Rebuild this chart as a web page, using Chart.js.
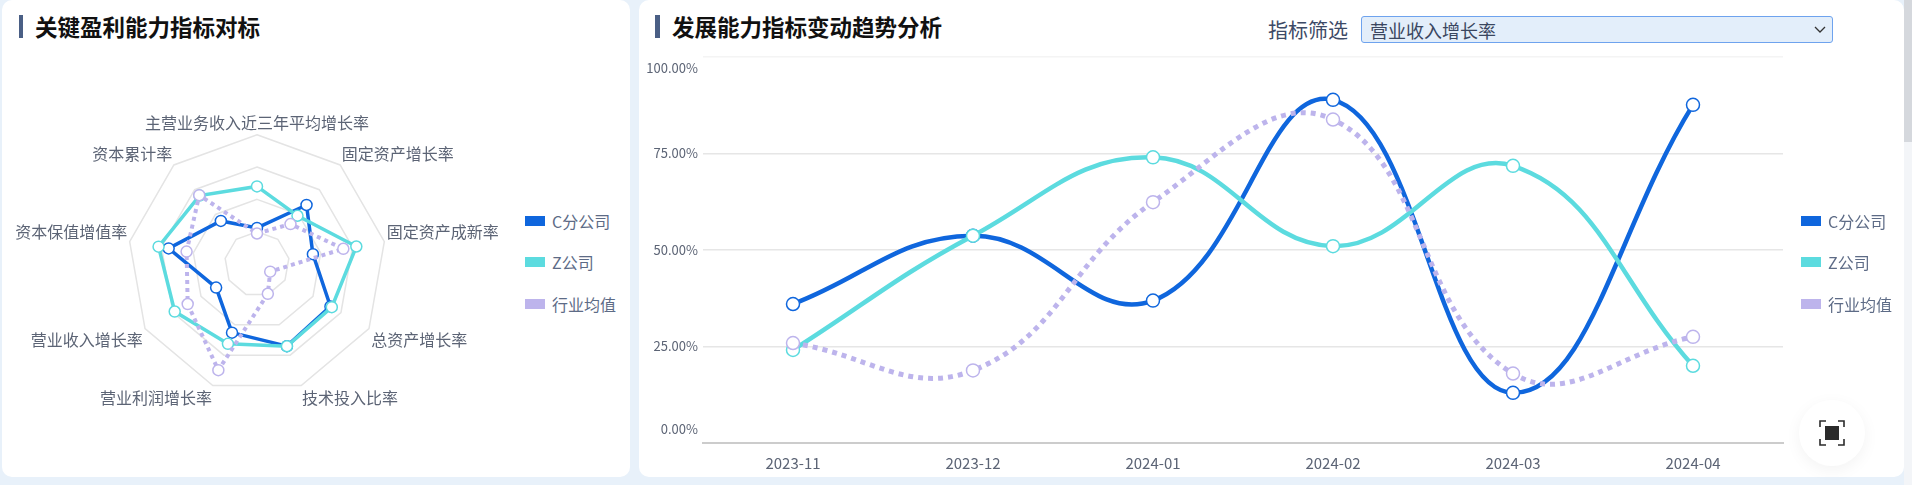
<!DOCTYPE html>
<html lang="zh-CN">
<head>
<meta charset="utf-8">
<title>指标对标</title>
<script src="https://cdn.jsdelivr.net/npm/chart.js@4/dist/chart.umd.min.js"></script>
<style>
    html, body { margin: 0; padding: 0; width: 1912px; height: 485px; overflow: hidden; background: #e8f1fa; font-family: "Noto Sans CJK SC", "Noto Sans", sans-serif; }
    .card { position: absolute; top: 0; height: 477px; background: #fff; border-radius: 10px; }
    #card1 { left: 2px; width: 628px; }
    #card2 { left: 639px; width: 1265px; }
    .titulo { position: absolute; top: 10px; font-size: 22.5px; line-height: 32px; font-weight: 700; color: #111; white-space: nowrap; }
    .barra { position: absolute; top: 15px; height: 23px; background: #4a5f85; }
    canvas { position: absolute; }
    .legenda { position: absolute; font-size: 16px; line-height: 20px; color: #5d6b86; }
    .legenda div { position: absolute; left: 0; white-space: nowrap; padding-left: 27px; }
    .legenda i { position: absolute; left: 0; top: 5px; width: 20px; height: 10px; }
    #filtroLabel { position: absolute; left: 1268px; top: 17px; font-size: 20px; line-height: 26px; color: #3d4a66; white-space: nowrap; }
    #filtro { position: absolute; left: 1361px; top: 16px; width: 472px; height: 27px; margin: 0; padding: 0 0 0 8px; box-sizing: border-box; border: 1px solid #6ea3ee; border-radius: 3px; background: #e3eefa url("data:image/svg+xml,%3Csvg xmlns='http://www.w3.org/2000/svg' width='12' height='8'%3E%3Cpath d='M1 1l5 5 5-5' fill='none' stroke='%23333' stroke-width='1.3'/%3E%3C/svg%3E") no-repeat right 6px center; font: 18px "Noto Sans CJK SC", sans-serif; color: #3a4660; appearance: none; }
    #tela { position: absolute; left: 1799px; top: 400px; width: 66px; height: 66px; border-radius: 50%; background: #fff; box-shadow: 0 4px 16px rgba(0,0,0,.05); }
    #barraRolagem { position: absolute; left: 1904px; top: 0; width: 8px; height: 485px; background: #f3f5f8; }
    #barraRolagem div { width: 8px; height: 142px; background: #d5d8dd; }
</style>
</head>
<body>
<div class="card" id="card1"></div>
<div class="card" id="card2"></div>
<div class="barra" style="left:19px;width:4px"></div>
<div class="titulo" style="left:35px">关键盈利能力指标对标</div>
<div class="barra" style="left:655px;width:5px"></div>
<div class="titulo" style="left:672px">发展能力指标变动趋势分析</div>
<div id="filtroLabel">指标筛选</div>
<select id="filtro"><option>营业收入增长率</option></select>

<canvas id="radar" width="520" height="302" style="left:-3px;top:109px"></canvas>
<canvas id="linha" width="1265" height="437" style="left:639px;top:40px"></canvas>
<div class="legenda" id="legRadar" style="left:525px;top:0"></div>
<div class="legenda" id="legLinha" style="left:1801px;top:0"></div>

<div id="tela">
    <svg width="66" height="66" viewBox="0 0 66 66" style="position:absolute;left:0;top:0">
        <path d="M21 27v-6h6M39 21h6v6M45 39v6h-6M27 45h-6v-6" fill="none" stroke="#2b2b2b" stroke-width="1.6"/>
        <rect x="26" y="26" width="14" height="14" fill="#2b2b2b"/>
    </svg>
</div>
<div id="barraRolagem"><div></div></div>

<script>
// Dados
const seriesNomes = ["C分公司", "Z公司", "行业均值"];
const cores = ["#0f66dd", "#5cdbdf", "#bdb4ec"];

const radarLabels = ["主营业务收入近三年平均增长率", "固定资产增长率", "固定资产成新率", "总资产增长率", "技术投入比率", "营业利润增长率", "营业收入增长率", "资本保值增值率", "资本累计率"];
const radarC = [27.9, 59.6, 43.9, 65.6, 67.6, 56.5, 36.5, 69.4, 43.5];
const radarZ = [60, 48.7, 78, 66.8, 67.7, 65.7, 73.5, 77.3, 69.1];
const radarMedia = [23.6, 40.3, 67.8, 11.8, 24.5, 87.4, 61.9, 55.3, 69.5];

const meses = ["2023-11", "2023-12", "2024-01", "2024-02", "2024-03", "2024-04"];
const linhaC = [36.0, 53.7, 36.9, 88.9, 13.0, 87.6];
const linhaZ = [24.1, 53.7, 74.0, 51.0, 71.8, 20.0];
const linhaMedia = [25.9, 18.8, 62.4, 83.8, 18.0, 27.5];
const yTicks = ["0.00%", "25.00%", "50.00%", "75.00%", "100.00%"];

const fonte = '"Noto Sans CJK SC", "Noto Sans", sans-serif';

function montaSerie(nome, valores, i, largura, raio, tensao) {
    return {
        label: nome,
        data: valores,
        borderColor: cores[i],
        borderWidth: largura,
        borderDash: i === 2 ? [largura, largura] : [],
        backgroundColor: "transparent",
        fill: false,
        tension: tensao,
        pointRadius: raio,
        pointBorderWidth: 1.5,
        pointBorderColor: cores[i],
        pointBackgroundColor: "#fff",
        order: 3 - i
    };
}

// Legendas em HTML para ficarem na posição exata
function montaLegenda(id, topos) {
    const caixa = document.getElementById(id);
    seriesNomes.forEach((nome, i) => {
        const item = document.createElement("div");
        item.style.top = topos[i] + "px";
        item.innerHTML = `<i style="background:${cores[i]}"></i>${nome}`;
        caixa.appendChild(item);
    });
}
montaLegenda("legRadar", [211, 252, 294]);
montaLegenda("legLinha", [211, 252, 294]);

// 1. Radar
new Chart(document.getElementById("radar"), {
    type: "radar",
    data: {
        labels: radarLabels,
        datasets: [
            montaSerie(seriesNomes[0], radarC, 0, 3.5, 5.5, 0),
            montaSerie(seriesNomes[1], radarZ, 1, 3.5, 5.5, 0),
            montaSerie(seriesNomes[2], radarMedia, 2, 4, 5.5, 0)
        ]
    },
    options: {
        responsive: false,
        animation: false,
        plugins: { legend: { display: false }, tooltip: { enabled: false } },
        scales: {
            r: {
                min: 0,
                max: 100,
                ticks: { stepSize: 25, display: false },
                grid: { color: "#e4e4e4", lineWidth: 1.5 },
                angleLines: { display: false },
                pointLabels: { color: "#5c6475", padding: 2.5, font: { family: fonte, size: 16 } }
            }
        }
    }
});

// Desloca os rótulos 0% e 100% para dentro da área, como no original
const ajustaTicks = {
    id: "ajustaTicks",
    beforeDraw(chart) {
        const itens = chart.scales.y.getLabelItems();
        if (itens.ajustado) return;
        itens.forEach(item => {
            if (item.label === yTicks[0]) item.options.translation[1] -= 14;
            if (item.label === yTicks[4]) item.options.translation[1] += 11;
        });
        itens.ajustado = true;
    }
};

// 2. Linhas
new Chart(document.getElementById("linha"), {
    type: "line",
    data: {
        labels: meses,
        datasets: [
            montaSerie(seriesNomes[0], linhaC, 0, 4.5, 6.5, 0.42),
            montaSerie(seriesNomes[1], linhaZ, 1, 4.5, 6.5, 0.42),
            montaSerie(seriesNomes[2], linhaMedia, 2, 5, 6.5, 0.42)
        ]
    },
    options: {
        responsive: false,
        animation: false,
        layout: { padding: { top: 17, right: 121, left: 0, bottom: 0 } },
        plugins: { legend: { display: false }, tooltip: { enabled: false } },
        scales: {
            x: {
                offset: true,
                afterFit: s => { s.height = 34; },
                grid: { display: false },
                border: { color: "#cccccc", width: 2 },
                ticks: { color: "#5c6475", padding: 3, font: { family: fonte, size: 15 } }
            },
            y: {
                min: 0,
                max: 100,
                afterFit: s => { s.width = 64; },
                border: { display: false },
                grid: {
                    drawTicks: false,
                    color: c => c.index === 4 ? "#f4f4f4" : (c.index === 0 ? "transparent" : "#e6e6e6"),
                    lineWidth: 1.5
                },
                ticks: {
                    stepSize: 25,
                    padding: 5,
                    color: "#5c6475",
                    font: { family: fonte, size: 13 },
                    callback: v => yTicks[v / 25]
                }
            }
        }
    },
    plugins: [ajustaTicks]
});
</script>
</body>
</html>
